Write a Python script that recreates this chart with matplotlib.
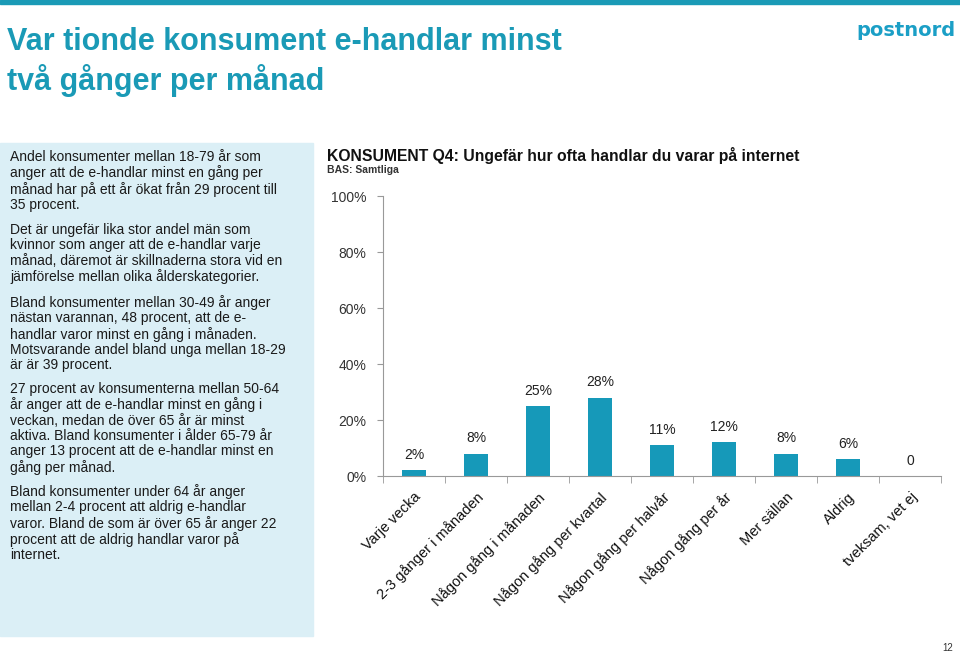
import matplotlib
matplotlib.use("Agg")
import matplotlib.pyplot as plt
from matplotlib.patches import Rectangle
from matplotlib.ticker import PercentFormatter

# ---------------------------------------------------------
# Data
# ---------------------------------------------------------
categories = [
    "Varje vecka",
    "2-3 gånger i månaden",
    "Någon gång i månaden",
    "Någon gång per kvartal",
    "Någon gång per halvår",
    "Någon gång per år",
    "Mer sällan",
    "Aldrig",
    "tveksam, vet ej",
]
values = [2, 8, 25, 28, 11, 12, 8, 6, 0]
value_labels = ["2%", "8%", "25%", "28%", "11%", "12%", "8%", "6%", "0"]

title_lines = ["Var tionde konsument e-handlar minst", "två gånger per månad"]
chart_title = "KONSUMENT Q4: Ungefär hur ofta handlar du varar på internet"
chart_subtitle = "BAS: Samtliga"

paragraphs = [
    "Andel konsumenter mellan 18-79 år som\nanger att de e-handlar minst en gång per\n"
    "månad har på ett år ökat från 29 procent till\n35 procent.",
    "Det är ungefär lika stor andel män som\nkvinnor som anger att de e-handlar varje\n"
    "månad, däremot är skillnaderna stora vid en\njämförelse mellan olika ålderskategorier.",
    "Bland konsumenter mellan 30-49 år anger\nnästan varannan, 48 procent, att de e-\n"
    "handlar varor minst en gång i månaden.\nMotsvarande andel bland unga mellan 18-29\när är 39 procent.",
    "27 procent av konsumenterna mellan 50-64\når anger att de e-handlar minst en gång i\n"
    "veckan, medan de över 65 år är minst\naktiva. Bland konsumenter i ålder 65-79 år\n"
    "anger 13 procent att de e-handlar minst en\ngång per månad.",
    "Bland konsumenter under 64 år anger\nmellan 2-4 procent att aldrig e-handlar\n"
    "varor. Bland de som är över 65 år anger 22\nprocent att de aldrig handlar varor på\ninternet.",
]

TEAL = "#1a9ab6"
BAR = "#1699b9"
W, H = 960, 654

plt.rcParams["font.family"] = ["Liberation Sans", "DejaVu Sans"]

fig = plt.figure(figsize=(W / 100, H / 100), dpi=100)


def fx(px):
    return px / W


def fy(py):
    return 1 - py / H


# top bar + side panel
fig.patches.append(Rectangle((0, fy(4)), 1, 4 / H, transform=fig.transFigure,
                             color=TEAL, zorder=0))
fig.patches.append(Rectangle((0, fy(636)), fx(313), (636 - 143) / H,
                             transform=fig.transFigure, color="#dbeff6", zorder=0))

# headline
for i, line in enumerate(title_lines):
    fig.text(fx(7), fy(50 + i * 40), line, fontsize=22, fontweight="bold",
             color=TEAL, va="baseline", ha="left")

fig.text(fx(956), fy(30), "postnord", fontsize=14, fontweight="bold",
         color="#1b9fc6", ha="right", va="center", family="DejaVu Sans")

# left text panel
para_tops = [150, 223, 295, 382, 484]
for top, txt in zip(para_tops, paragraphs):
    fig.text(fx(10), fy(top), txt, fontsize=10, color="#1a1a1a",
             va="top", ha="left", linespacing=1.12)

# chart header
fig.text(fx(327), fy(156), chart_title, fontsize=11.3, fontweight="bold",
         color="#111111", va="center", ha="left")
fig.text(fx(327), fy(170), chart_subtitle, fontsize=7.5, fontweight="bold",
         color="#333333", va="center", ha="left")

# ---------------------------------------------------------
# Bar chart
# ---------------------------------------------------------
ax = fig.add_axes([fx(383), fy(476), fx(941 - 383), (476 - 196) / H])
x = list(range(len(categories)))
ax.bar(x, values, width=0.4, color=BAR, zorder=2)

for xi, v, lab in zip(x, values, value_labels):
    ax.annotate(lab, (xi, v), xytext=(0, 6), textcoords="offset points",
                ha="center", va="bottom", fontsize=10, color="#222222")

ax.set_xlim(-0.5, len(categories) - 0.5)
ax.set_ylim(0, 100)
ax.set_yticks([0, 20, 40, 60, 80, 100])
ax.yaxis.set_major_formatter(PercentFormatter(decimals=0))

ax.set_xticks(x)
ax.set_xticklabels(categories, rotation=45, ha="right",
                   rotation_mode="anchor", fontsize=10.5, color="#111111")
ax.set_xticks([i - 0.5 for i in range(len(categories) + 1)], minor=True)
ax.tick_params(axis="x", which="major", length=0, pad=10)
ax.tick_params(axis="x", which="minor", length=5, color="#999999")
ax.tick_params(axis="y", length=4, color="#999999", labelsize=10,
               labelcolor="#333333", pad=8)

for side in ["top", "right"]:
    ax.spines[side].set_visible(False)
for side in ["left", "bottom"]:
    ax.spines[side].set_color("#999999")

fig.text(fx(948), fy(648), "12", fontsize=7, color="#333333",
         ha="center", va="center")

fig.savefig("out.png", dpi=100)
